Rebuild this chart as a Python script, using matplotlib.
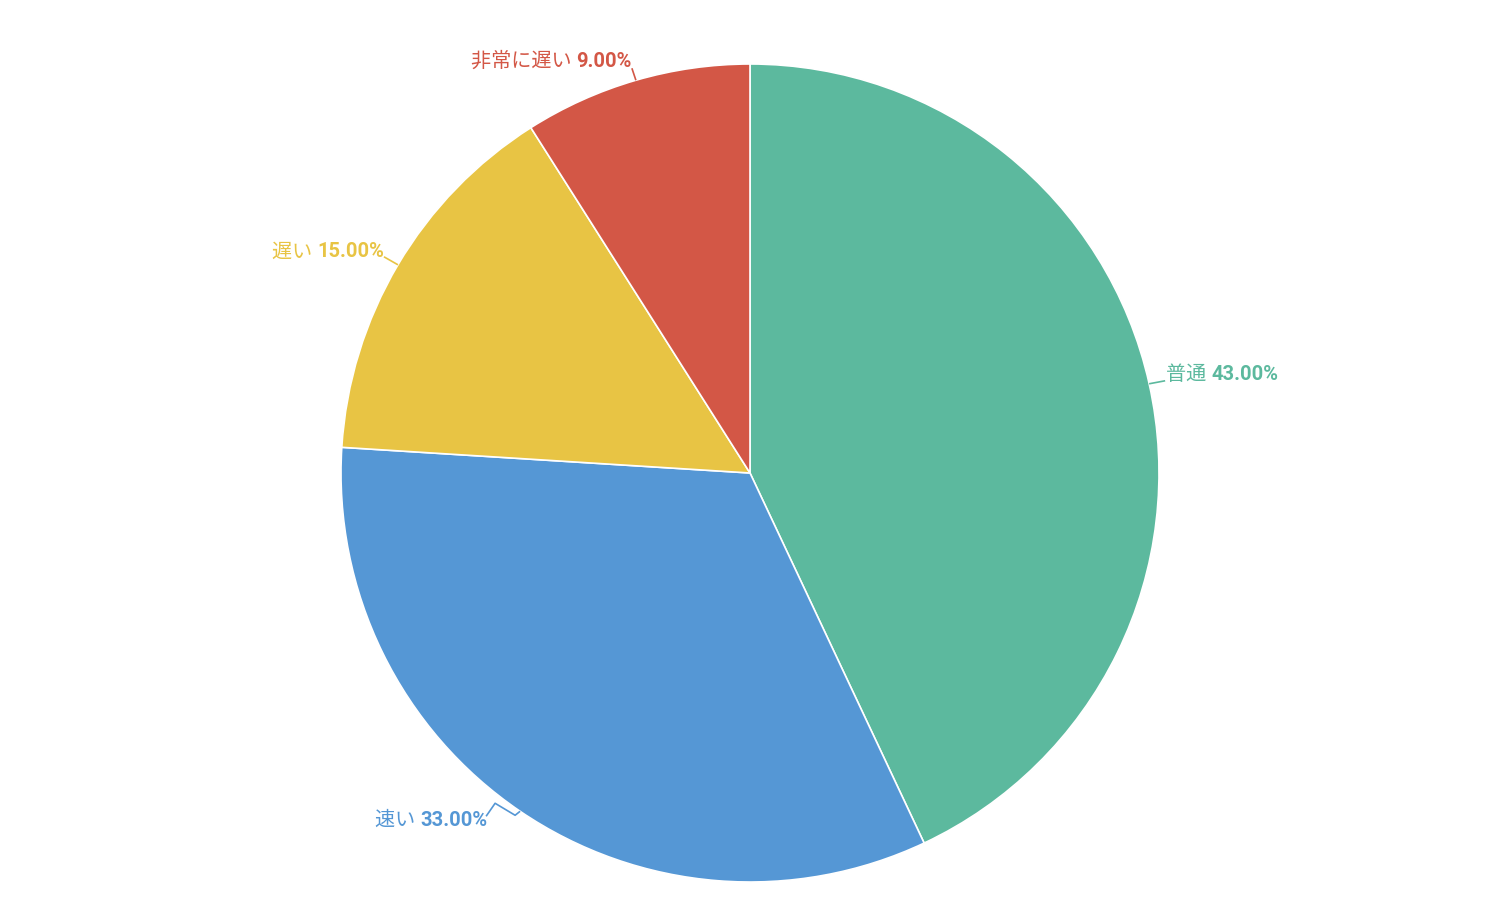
import numpy as np
import matplotlib
matplotlib.use("Agg")
import matplotlib.pyplot as plt
from matplotlib.offsetbox import TextArea, HPacker, AnnotationBbox

labels = ["普通", "速い", "遅い", "非常に遅い"]
values = [43.0, 33.0, 15.0, 9.0]
colors = ["#5cb99e", "#5597d5", "#e8c444", "#d35746"]

FAM = ["Roboto", "Noto Sans CJK JP", "DejaVu Sans"]
plt.rcParams["font.family"] = FAM

W, H, DPI = 1500, 924, 100
R = 409.0          # pie radius in px
CX, CY = 750.0, 473.0  # centre in px (y from top)
FS = 14.5

fig = plt.figure(figsize=(W / DPI, H / DPI), dpi=DPI)
ax = fig.add_axes([0, 0, 1, 1])

wedges, _ = ax.pie(values, colors=colors, startangle=90, counterclock=False,
                   radius=1.0, wedgeprops=dict(edgecolor="white", linewidth=1.2))
ax.set_aspect("auto")
ax.set_xlim(-CX / R, (W - CX) / R)
ax.set_ylim(-(H - CY) / R, CY / R)
ax.axis("off")

# leader paths as pixel offsets from the slice edge point (x right, y down)
leaders = [
    [(0, 0), (16, -3)],
    [(0, 0), (-5, 4), (-25, -8), (-34, 5)],
    [(0, 0), (-14, -8)],
    [(0, 0), (-4, -12)],
]
# text anchor offsets (px) from the edge point, and horizontal alignment
text_off = [((17, -9), 0.0), ((-33, 9), 1.0), ((-14, -13), 1.0), ((-4, -19), 1.0)]

for w, lab, val, col, path, (toff, halign) in zip(wedges, labels, values, colors, leaders, text_off):
    ang = np.deg2rad((w.theta1 + w.theta2) / 2)
    ex, ey = np.cos(ang), np.sin(ang)
    xs = [ex + dx / R for dx, dy in path]
    ys = [ey - dy / R for dx, dy in path]
    ax.plot(xs, ys, color=col, lw=1.2, solid_capstyle="butt")
    t1 = TextArea(lab + " ", textprops=dict(color=col, fontsize=FS, family=FAM))
    t2 = TextArea(f"{val:.2f}%", textprops=dict(color=col, fontsize=FS, fontweight="bold", family=FAM))
    box = HPacker(children=[t1, t2], pad=0, sep=0, align="baseline")
    tx = ex + toff[0] / R
    ty = ey - toff[1] / R
    ab = AnnotationBbox(box, (tx, ty), xycoords="data", box_alignment=(halign, 0.5),
                        frameon=False, pad=0)
    ax.add_artist(ab)

fig.savefig("out.png", dpi=DPI, facecolor="white")
